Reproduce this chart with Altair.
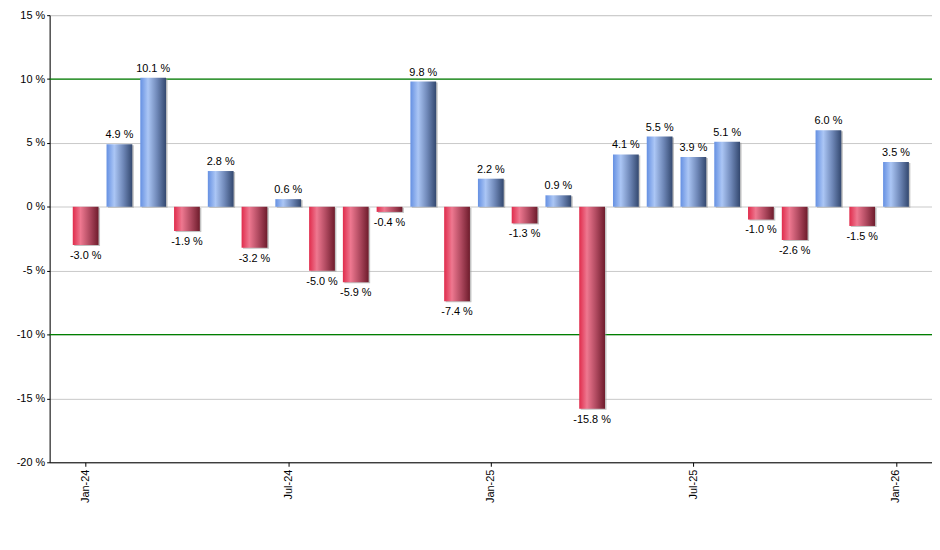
import altair as alt
import pandas as pd

months = ["Jan-24","Feb-24","Mar-24","Apr-24","May-24","Jun-24","Jul-24","Aug-24","Sep-24","Oct-24","Nov-24","Dec-24",
          "Jan-25","Feb-25","Mar-25","Apr-25","May-25","Jun-25","Jul-25","Aug-25","Sep-25","Oct-25","Nov-25","Dec-25","Jan-26"]
values = [-3.0, 4.9, 10.1, -1.9, 2.8, -3.2, 0.6, -5.0, -5.9, -0.4, 9.8, -7.4,
          2.2, -1.3, 0.9, -15.8, 4.1, 5.5, 3.9, 5.1, -1.0, -2.6, 6.0, -1.5, 3.5]
tick_labels = ["Jan-24", "Jul-24", "Jan-25", "Jul-25", "Jan-26"]
y_ticks = [-20, -15, -10, -5, 0, 5, 10, 15]
ref_lines = [10, -10]

df = pd.DataFrame({"month": months, "idx": list(range(len(months))), "value": values})
df["label"] = df["value"].map(lambda v: f"{v:.1f} %")

tick_pos = [months.index(m) for m in tick_labels]
label_expr = "[" + ",".join(f"'{m}'" for m in months) + "][datum.value]"

FONT = "Liberation Sans"

x_enc = alt.X("idx:Q",
              scale=alt.Scale(domain=[-0.92, 24.92], nice=False, zero=False),
              axis=alt.Axis(values=tick_pos, labelExpr=label_expr, labelAngle=-90,
                            title=None, grid=False, domainColor="black", tickColor="black",
                            tickSize=4, labelFont=FONT, labelFontSize=11, labelColor="black",
                            labelPadding=3, labelAlign="right", labelBaseline="middle"))
y_scale = alt.Scale(domain=[-20, 15], nice=False)
y_enc = alt.Y("value:Q", scale=y_scale,
              axis=alt.Axis(values=y_ticks, labelExpr="datum.value + ' %'", title=None,
                            grid=True, gridColor="#c8c8c8", gridWidth=1,
                            domainColor="black", tickColor="black", tickSize=3,
                            labelFont=FONT, labelFontSize=11, labelColor="black", labelPadding=2))

base = alt.Chart(df)

blue = alt.Gradient(gradient="linear", x1=0, y1=0, x2=1, y2=0,
                    stops=[alt.GradientStop(color="#6590e2", offset=0),
                           alt.GradientStop(color="#abc6f5", offset=0.3),
                           alt.GradientStop(color="#6f88b8", offset=0.65),
                           alt.GradientStop(color="#33486f", offset=1)])
red = alt.Gradient(gradient="linear", x1=0, y1=0, x2=1, y2=0,
                   stops=[alt.GradientStop(color="#e02c4c", offset=0),
                          alt.GradientStop(color="#ee7890", offset=0.3),
                          alt.GradientStop(color="#b04a60", offset=0.65),
                          alt.GradientStop(color="#6e1c2c", offset=1)])

rules = alt.Chart(pd.DataFrame({"y": ref_lines})).mark_rule(color="#008000", strokeWidth=1.2).encode(
    y=alt.Y("y:Q", scale=y_scale))

shadow = base.mark_bar(size=26, color="#9a9a9a", opacity=0.6, xOffset=1.5, yOffset=1).encode(x=x_enc, y=y_enc)
pos = base.transform_filter("datum.value >= 0").mark_bar(size=26, color=blue).encode(x=x_enc, y=y_enc)
neg = base.transform_filter("datum.value < 0").mark_bar(size=26, color=red).encode(x=x_enc, y=y_enc)

pos_lbl = base.transform_filter("datum.value >= 0").mark_text(
    baseline="bottom", dy=-4, font=FONT, fontSize=11, color="black").encode(
    x=alt.X("idx:Q"), y=alt.Y("value:Q"), text="label:N")
neg_lbl = base.transform_filter("datum.value < 0").mark_text(
    baseline="top", dy=5, font=FONT, fontSize=11, color="black").encode(
    x=alt.X("idx:Q"), y=alt.Y("value:Q"), text="label:N")

chart = alt.layer(rules, shadow, pos, neg, pos_lbl, neg_lbl).properties(
    width=890, height=451,
    autosize=alt.AutoSizeParams(type="none"),
    padding={"left": 42, "top": 5, "right": 0, "bottom": 60},
).configure_view(stroke=None).configure(background="white")

chart.save("out.html", embed_options={"renderer": "svg", "actions": False})
